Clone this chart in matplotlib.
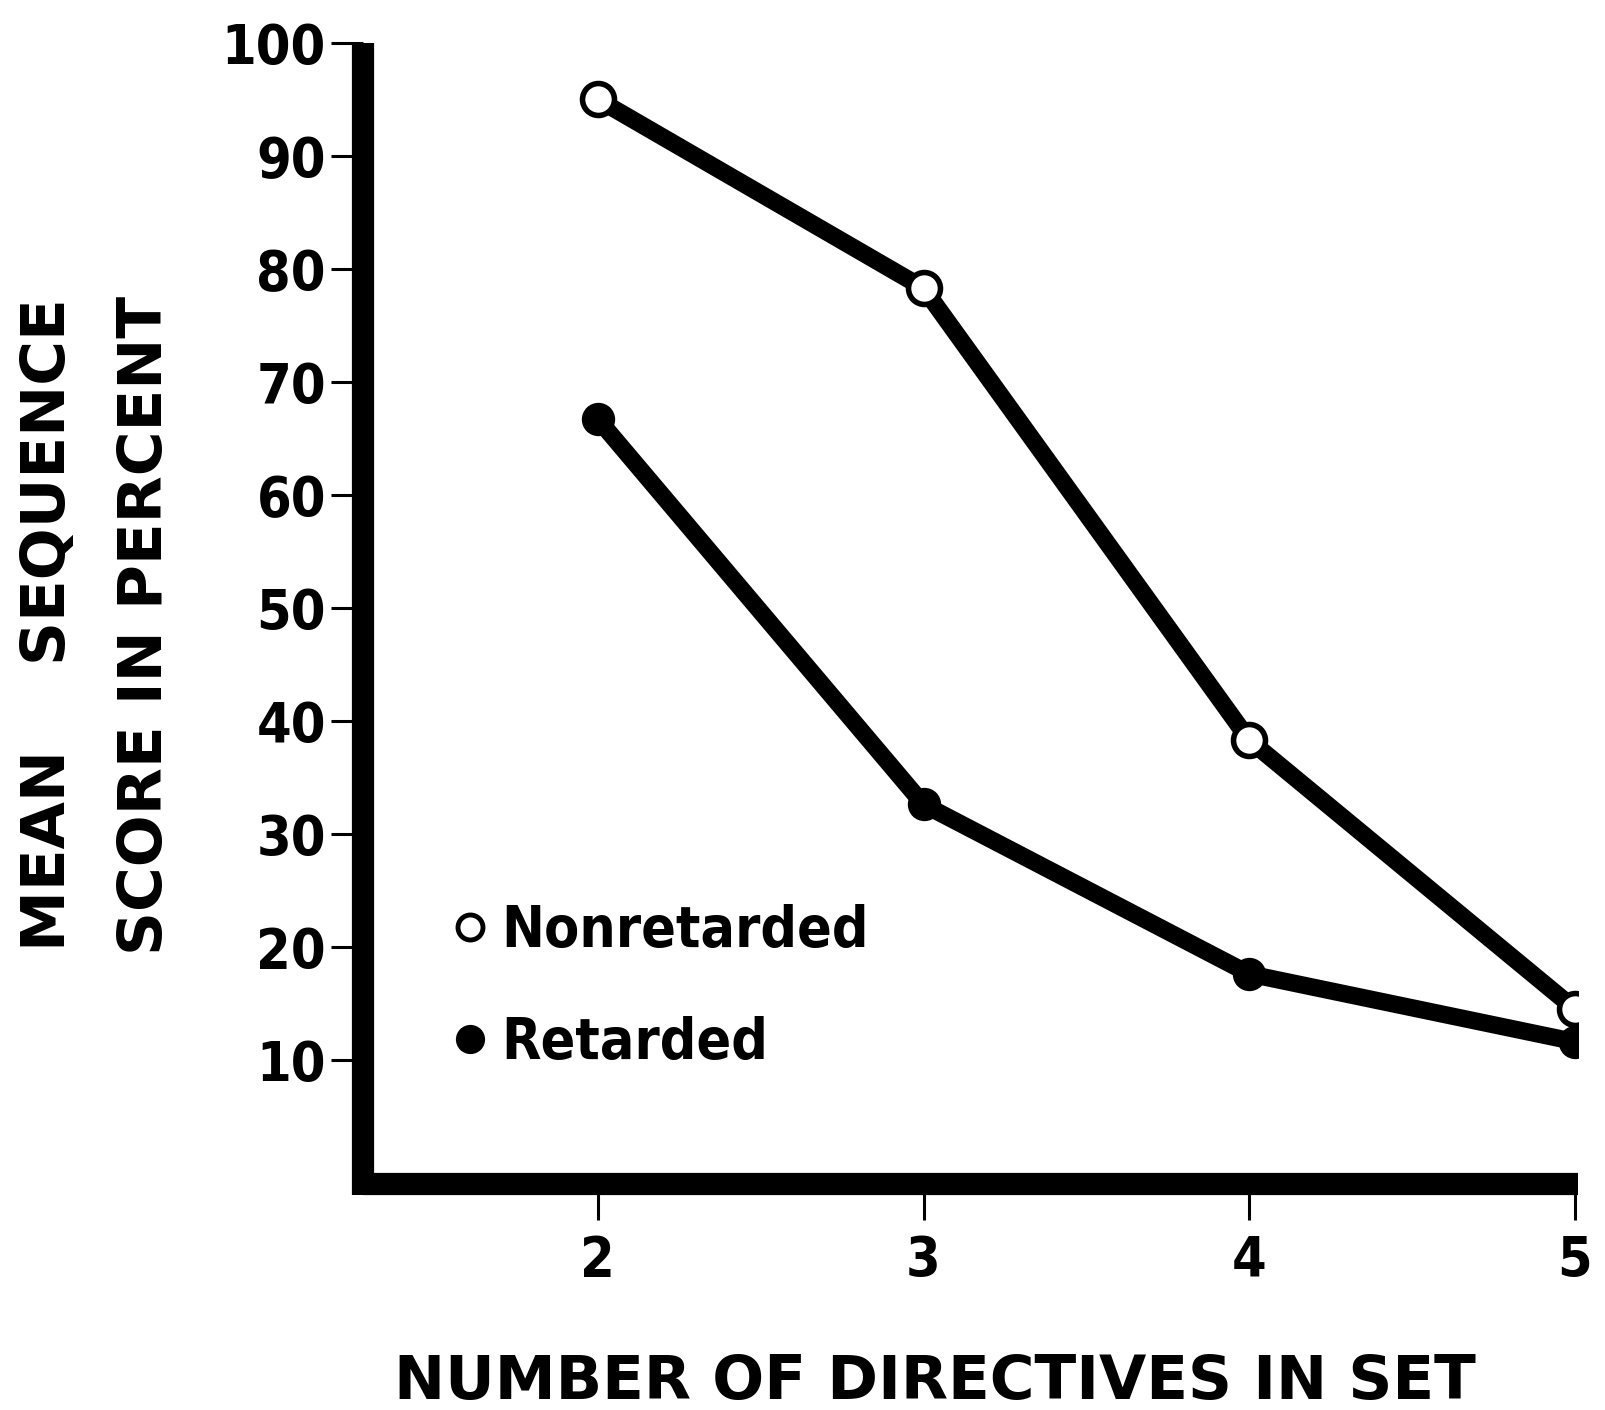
import matplotlib
matplotlib.use("Agg")
import matplotlib.pyplot as plt
from matplotlib.lines import Line2D

directives = [2, 3, 4, 5]
nonretarded = [95.0, 78.3, 38.3, 14.5]
retarded = [66.7, 32.6, 17.6, 11.6]
yticks = [10, 20, 30, 40, 50, 60, 70, 80, 90, 100]
series_labels = ["Nonretarded", "Retarded"]

W, H = 1606, 1410
fig = plt.figure(figsize=(W / 100, H / 100), dpi=100)
fig.patch.set_facecolor("white")

# axes placement in pixels
left_px, right_px = 363.5, 1578.0
top_px, bottom_px = 43.0, 1184.0
ax = fig.add_axes([left_px / W, 1 - bottom_px / H,
                   (right_px - left_px) / W, (bottom_px - top_px) / H])
ax.set_xlim(1.28, 5.01)
ax.set_ylim(-1, 100)

for s in ["top", "right"]:
    ax.spines[s].set_visible(False)
for s in ["left", "bottom"]:
    ax.spines[s].set_linewidth(16)
    ax.spines[s].set_color("black")
    ax.spines[s].set_capstyle("butt")
ax.spines["left"].set_bounds(-2, 100)
ax.spines["bottom"].set_bounds(1.28, 5.01)

lw = 12.5
ax.plot(directives, nonretarded, color="black", lw=lw, solid_capstyle="round",
        solid_joinstyle="round", marker="o", markersize=23, markerfacecolor="white",
        markeredgecolor="black", markeredgewidth=4, zorder=3)
ax.plot(directives, retarded, color="black", lw=lw, solid_capstyle="round",
        solid_joinstyle="round", marker="o", markersize=23, markerfacecolor="black",
        markeredgecolor="black", zorder=3)

ax.set_xticks(directives)
ax.set_xticklabels([str(d) for d in directives])
ax.set_yticks(yticks)
ax.set_yticklabels([str(v) for v in yticks])
ax.tick_params(axis="y", direction="out", length=23, width=2.2, pad=4,
               labelsize=40)
ax.tick_params(axis="x", direction="out", length=26, width=2.2, pad=10,
               labelsize=40)
for lab in ax.get_xticklabels() + ax.get_yticklabels():
    lab.set_fontweight("bold")
    lab.set_fontfamily("DejaVu Sans")
    lab.set_fontstretch("condensed")

ax.set_ylabel("MEAN    SEQUENCE\nSCORE IN PERCENT", fontsize=44,
              fontweight="bold", linespacing=1.83, va="center", ha="center",
              multialignment="center")
ax.yaxis.set_label_coords((97 - left_px) / (right_px - left_px),
                          (bottom_px - 625) / (bottom_px - top_px))
ax.set_xlabel("NUMBER OF DIRECTIVES IN SET", fontsize=44, fontweight="bold",
              va="center", ha="center")
ax.xaxis.set_label_coords((935 - left_px) / (right_px - left_px),
                          (bottom_px - 1383) / (bottom_px - top_px))

handles = [
    Line2D([], [], linestyle="none", marker="o", markersize=18,
           markerfacecolor="white", markeredgecolor="black", markeredgewidth=3.5),
    Line2D([], [], linestyle="none", marker="o", markersize=20,
           markerfacecolor="black", markeredgecolor="black"),
]
leg = ax.legend(handles, series_labels, loc="upper left",
                bbox_to_anchor=((453 - left_px) / (right_px - left_px),
                                (bottom_px - 904) / (bottom_px - top_px)),
                frameon=False, handlelength=0.6, handletextpad=0.25,
                labelspacing=1.0, borderaxespad=0, borderpad=0,
                prop={"family": "DejaVu Sans", "weight": "bold",
                      "stretch": "condensed", "size": 41})

fig.savefig("out.png", dpi=100, facecolor="white")
